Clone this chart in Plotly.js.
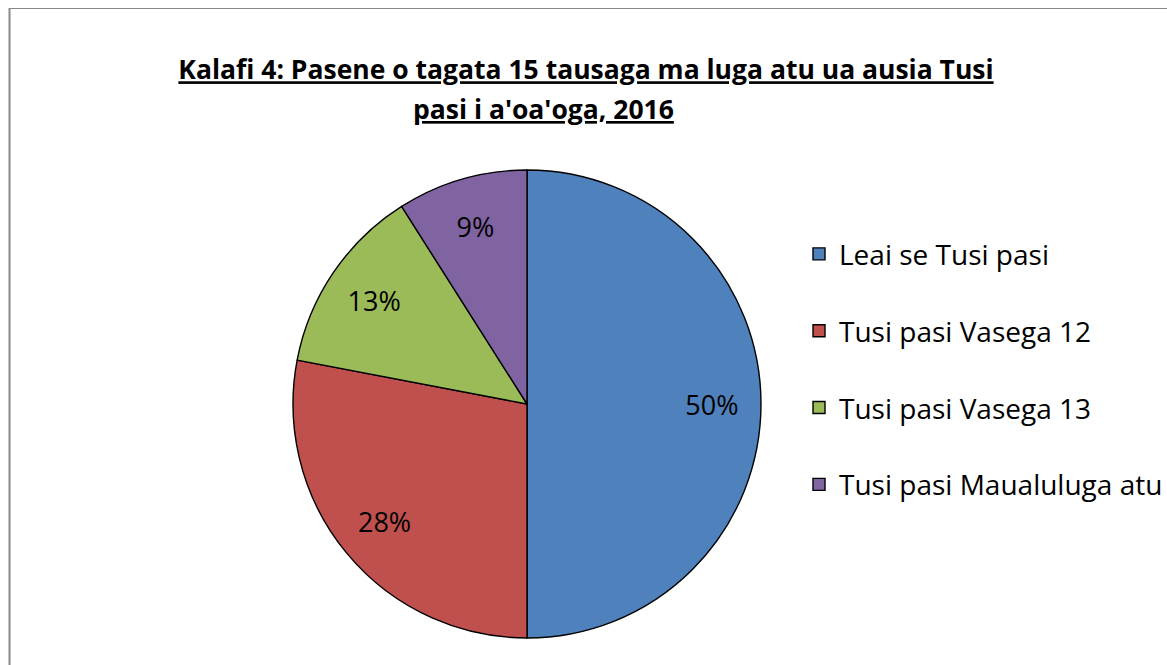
<!DOCTYPE html>
<html>
<head>
<meta charset="utf-8">
<script src="https://cdn.plot.ly/plotly-3.0.1.min.js"></script>
<style>
  html, body { margin: 0; padding: 0; background: #ffffff; }
  #chart { width: 1167px; height: 665px; }
</style>
</head>
<body>
<div id="chart"></div>
<script>
// ---- data ----
const categories = ["Leai se Tusi pasi", "Tusi pasi Vasega 12", "Tusi pasi Vasega 13", "Tusi pasi Maualuluga atu"];
const percentValues = [50, 28, 13, 9];
const sliceColors = ["#4F81BD", "#C0504D", "#9BBB59", "#8064A2"];
const titleLine1 = "Kalafi 4: Pasene o tagata 15 tausaga ma luga atu ua ausia Tusi";
const titleLine2 = "pasi i a'oa'oga, 2016";

const W = 1167, H = 665;
const FONT = "Open Sans, Liberation Sans, sans-serif";
const pieDomain = { x: [293 / W, 761 / W], y: [1 - 638 / H, 1 - 170 / H] };

// legend labels: a blank first line gives the taller row spacing of the original
const legendLabels = categories.map(c => '&nbsp;<br><span style="font-size:28px">' + c + '</span>');

// the filled pie with slice borders and the legend
const pieTrace = {
  type: 'pie',
  labels: legendLabels,
  values: percentValues,
  sort: false,
  direction: 'clockwise',
  rotation: 0,
  marker: { colors: sliceColors, line: { color: '#000000', width: 1.4 } },
  textinfo: 'none',
  hoverinfo: 'skip',
  domain: pieDomain
};

// same data as a transparent ring, used only to place the percentage labels outward
const labelTrace = {
  type: 'pie',
  labels: legendLabels,
  values: percentValues,
  sort: false,
  direction: 'clockwise',
  rotation: 0,
  hole: 0.58,
  showlegend: false,
  marker: { colors: sliceColors.map(() => 'rgba(0,0,0,0)'), line: { width: 0 } },
  texttemplate: '%{percent:.0%}',
  textposition: 'inside',
  insidetextorientation: 'horizontal',
  insidetextfont: { family: FONT, size: 27, color: '#000000' },
  hoverinfo: 'skip',
  domain: pieDomain
};

const layout = {
  width: W, height: H,
  margin: { l: 0, r: 0, t: 0, b: 0, autoexpand: false },
  paper_bgcolor: '#ffffff',
  showlegend: true,
  title: {
    text: '<b>' + titleLine1 + '</b>',
    font: { family: FONT, size: 26.5, color: '#000000', lineposition: 'under' },
    x: 586 / W, xanchor: 'center', xref: 'paper',
    y: 1 - 70 / H, yanchor: 'middle', yref: 'container'
  },
  annotations: [{
    text: '<b>' + titleLine2 + '</b>',
    font: { family: FONT, size: 26.5, color: '#000000', lineposition: 'under' },
    xref: 'paper', yref: 'paper', x: 543 / W, y: 1 - 109 / H,
    xanchor: 'center', yanchor: 'middle', showarrow: false
  }],
  legend: {
    xref: 'container', yref: 'container',
    x: 799 / W, xanchor: 'left',
    y: 1 - 351 / H, yanchor: 'middle',
    font: { family: FONT, size: 28.4, color: '#000000' },
    valign: 'bottom',
    bgcolor: 'rgba(0,0,0,0)',
    itemclick: false, itemdoubleclick: false
  },
  shapes: [
    { type: 'line', xref: 'paper', yref: 'paper', x0: 9.5 / W, x1: 9.5 / W, y0: 0, y1: 1 - 8 / H,
      line: { color: '#888888', width: 2 } },
    { type: 'line', xref: 'paper', yref: 'paper', x0: 9 / W, x1: 1, y0: 1 - 8.5 / H, y1: 1 - 8.5 / H,
      line: { color: '#888888', width: 1.2 } }
  ]
};

Plotly.newPlot('chart', [pieTrace, labelTrace], layout, { displayModeBar: false, staticPlot: true });
</script>
</body>
</html>
